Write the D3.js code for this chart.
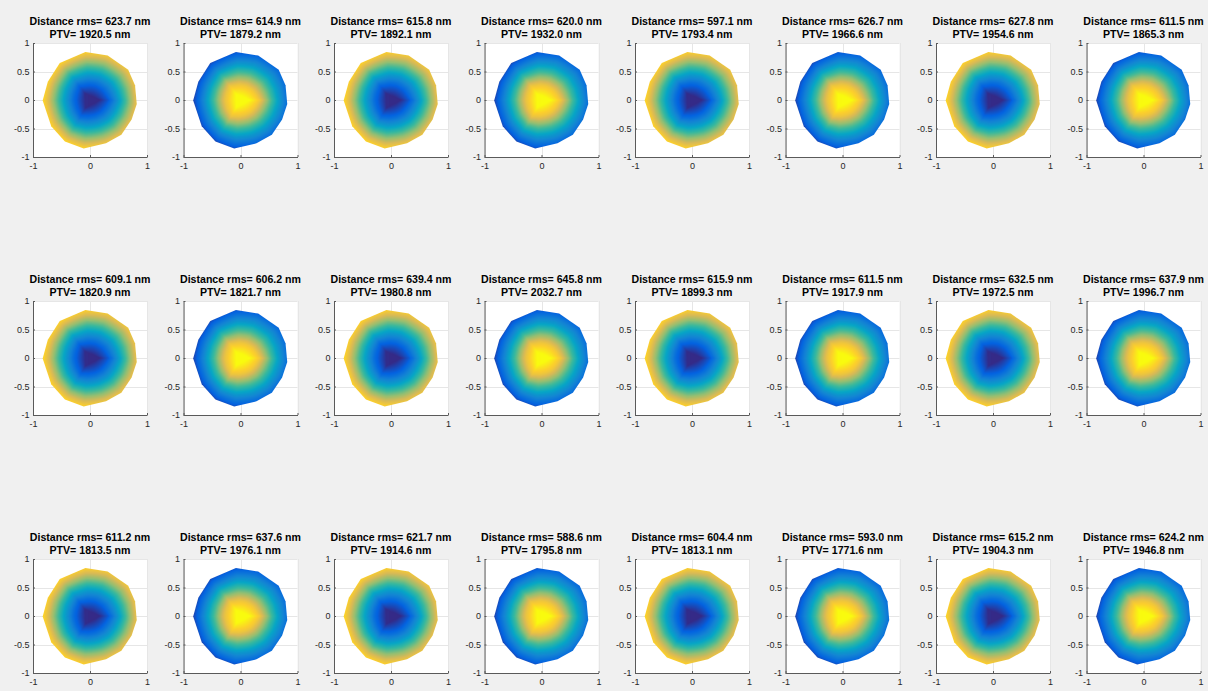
<!DOCTYPE html>
<html>
<head>
<meta charset="utf-8">
<script src="https://cdn.jsdelivr.net/npm/d3@7"></script>
<style>
  html, body { margin: 0; padding: 0; background: #f0f0f0; }
  svg { display: block; }
</style>
</head>
<body>
<svg id="fig" width="1208" height="691"></svg>
<script>
// Per-sample results, row by row (8 samples per row)
const rmsValues = [623.7, 614.9, 615.8, 620.0, 597.1, 626.7, 627.8, 611.5,
                   609.1, 606.2, 639.4, 645.8, 615.9, 611.5, 632.5, 637.9,
                   611.2, 637.6, 621.7, 588.6, 604.4, 593.0, 615.2, 624.2];
const ptvValues = [1920.5, 1879.2, 1892.1, 1932.0, 1793.4, 1966.6, 1954.6, 1865.3,
                   1820.9, 1821.7, 1980.8, 2032.7, 1899.3, 1917.9, 1972.5, 1996.7,
                   1813.5, 1976.1, 1914.6, 1795.8, 1813.1, 1771.6, 1904.3, 1946.8];
// +1: bowl (low centre), -1: dome (high centre)
const surfaceSign = [1, -1, 1, -1, 1, -1, 1, -1,
                     1, -1, 1, -1, 1, -1, 1, -1,
                     1, -1, 1, -1, 1, -1, 1, -1];

// Outer rim of the measured aperture (normalised coordinates)
const rimX = [-0.08, 0.31, 0.67, 0.79, 0.82, 0.73, 0.55, 0.28, -0.11, -0.44, -0.68, -0.83, -0.74, -0.53];
const rimY = [0.84, 0.78, 0.53, 0.26, -0.07, -0.34, -0.61, -0.76, -0.85, -0.73, -0.46, -0.01, 0.32, 0.65];
// Central facet of the mesh
const coreX = [-0.09, 0.16, -0.08];
const coreY = [0.12, 0.00, -0.14];

// Normalised height profile from the central facet (0) out to the rim (1)
const radialStops = [0, 0.25, 0.5, 0.75, 1];
const bowlLevels = [0.00, 0.13, 0.34, 0.60, 0.86];
const domeLevels = [1.00, 0.83, 0.56, 0.31, 0.11];

const xTicks = [-1, 0, 1];
const yTicks = [-1, -0.5, 0, 0.5, 1];

// parula colormap
const parulaStops = ["#352a87", "#0363e1", "#1485d4", "#06a7c6", "#38b99e",
                     "#92bf73", "#d9ba56", "#fcce2e", "#f9fb0e"];

const svg = d3.select("#fig");
const defs = svg.append("defs");
svg.append("rect").attr("width", 1208).attr("height", 691).attr("fill", "#f0f0f0");

const parula = d3.scaleLinear()
  .domain(d3.range(parulaStops.length).map(i => i / (parulaStops.length - 1)))
  .range(parulaStops)
  .interpolate(d3.interpolateRgb)
  .clamp(true);
const lut = d3.range(256).map(i => d3.rgb(parula(i / 255)));

const rim = rimX.map((x, i) => [x, rimY[i]]);
const core = coreX.map((x, i) => [x, coreY[i]]);
const rimMean = d3.mean(rim, p => Math.hypot(p[0], p[1]));

// distance from origin to polygon boundary along unit direction (ux, uy)
function reach(poly, ux, uy) {
  let best = Infinity;
  for (let i = 0; i < poly.length; i++) {
    const a = poly[i], b = poly[(i + 1) % poly.length];
    const ex = b[0] - a[0], ey = b[1] - a[1];
    const den = ux * ey - uy * ex;
    if (Math.abs(den) < 1e-12) continue;
    const t = (a[0] * ey - a[1] * ex) / den;
    const s = (a[0] * uy - a[1] * ux) / den;
    if (t > 0 && s >= -1e-9 && s <= 1 + 1e-9 && t < best) best = t;
  }
  return best;
}

// raster of the mesh coordinate over the [-1, 1] square
const S = 240;
const pix = d3.scaleLinear([0, S], [-1, 1]);
const meshD = new Float32Array(S * S);
const meshX = new Float32Array(S * S);
for (let j = 0; j < S; j++) {
  for (let i = 0; i < S; i++) {
    const x = pix(i + 0.5), y = -pix(j + 0.5);
    const r = Math.hypot(x, y);
    let d = 0;
    if (r > 1e-9) {
      const ux = x / r, uy = y / r;
      const rc = reach(core, ux, uy);
      const rp = 0.45 * reach(rim, ux, uy) + 0.55 * rimMean;
      d = Math.max(0, (r - rc) / (rp - rc));
    }
    meshD[j * S + i] = d;
    meshX[j * S + i] = x;
  }
}

const bowl = d3.scaleLinear(radialStops, bowlLevels);
const dome = d3.scaleLinear(radialStops, domeLevels);

function surfaceImage(sign) {
  const cv = document.createElement("canvas");
  cv.width = S; cv.height = S;
  const ctx = cv.getContext("2d");
  const img = ctx.createImageData(S, S);
  const prof = sign > 0 ? bowl : dome;
  const tilt = sign > 0 ? -0.06 : 0.07;
  for (let k = 0; k < S * S; k++) {
    let v = prof(meshD[k]) + tilt * meshX[k];
    v = Math.max(0, Math.min(1, v));
    const c = lut[Math.round(v * 255)];
    img.data[4 * k] = c.r;
    img.data[4 * k + 1] = c.g;
    img.data[4 * k + 2] = c.b;
    img.data[4 * k + 3] = 255;
  }
  ctx.putImageData(img, 0, 0);
  return cv.toDataURL();
}
const images = { 1: surfaceImage(1), "-1": surfaceImage(-1) };

const fontFamily = "'Liberation Sans', Arial, Helvetica, sans-serif";
const size = 114;

rmsValues.forEach((rms, k) => {
  const col = k % 8, row = Math.floor(k / 8);
  const left = 33 + col * 150.5;
  const top = 43 + row * 258;
  const x = d3.scaleLinear([-1, 1], [left, left + size]);
  const y = d3.scaleLinear([-1, 1], [top + size, top]);
  const g = svg.append("g");

  g.append("rect")
    .attr("x", x(-1)).attr("y", y(1))
    .attr("width", x(1) - x(-1)).attr("height", y(-1) - y(1))
    .attr("fill", "#ffffff");

  // grid
  g.append("g").selectAll("line").data(xTicks).join("line")
    .attr("x1", d => Math.round(x(d)) + 0.5).attr("x2", d => Math.round(x(d)) + 0.5)
    .attr("y1", y(1)).attr("y2", y(-1))
    .attr("stroke", "#e6e6e6").attr("stroke-width", 1);
  g.append("g").selectAll("line").data(yTicks).join("line")
    .attr("y1", d => Math.round(y(d)) + 0.5).attr("y2", d => Math.round(y(d)) + 0.5)
    .attr("x1", x(-1)).attr("x2", x(1))
    .attr("stroke", "#e6e6e6").attr("stroke-width", 1);

  // surface
  const line = d3.line().x(d => x(d[0])).y(d => y(d[1])).curve(d3.curveLinearClosed);
  defs.append("clipPath").attr("id", "rim" + k)
    .append("path").attr("d", line(rim));
  g.append("image")
    .attr("href", images[surfaceSign[k]])
    .attr("x", x(-1)).attr("y", y(1))
    .attr("width", x(1) - x(-1)).attr("height", y(-1) - y(1))
    .attr("preserveAspectRatio", "none")
    .attr("clip-path", `url(#rim${k})`);

  // axes
  const ay = g.append("g").attr("transform", `translate(${left},0)`)
    .call(d3.axisLeft(y).tickValues(yTicks).tickFormat(d => String(d))
      .tickSizeInner(-2).tickSizeOuter(0).tickPadding(3.5));
  const ax = g.append("g").attr("transform", `translate(0,${top + size})`)
    .call(d3.axisBottom(x).tickValues(xTicks).tickFormat(d => String(d))
      .tickSizeInner(-2).tickSizeOuter(0).tickPadding(5.5));
  [ay, ax].forEach(a => {
    a.attr("font-family", fontFamily).attr("font-size", 9);
    a.select(".domain").attr("stroke", "#5a5a5a");
    a.selectAll(".tick line").attr("stroke", "#5a5a5a");
    a.selectAll(".tick text").attr("fill", "#262626");
  });

  // title
  const cx = left + size / 2;
  g.append("text")
    .attr("x", cx).attr("y", top - 18)
    .attr("text-anchor", "middle")
    .attr("font-family", fontFamily).attr("font-weight", "bold").attr("font-size", 10.6)
    .attr("fill", "#000")
    .text(`Distance rms= ${rms.toFixed(1)} nm`);
  g.append("text")
    .attr("x", cx).attr("y", top - 5.5)
    .attr("text-anchor", "middle")
    .attr("font-family", fontFamily).attr("font-weight", "bold").attr("font-size", 10.6)
    .attr("fill", "#000")
    .text(`PTV= ${ptvValues[k].toFixed(1)} nm`);
});
</script>
</body>
</html>
